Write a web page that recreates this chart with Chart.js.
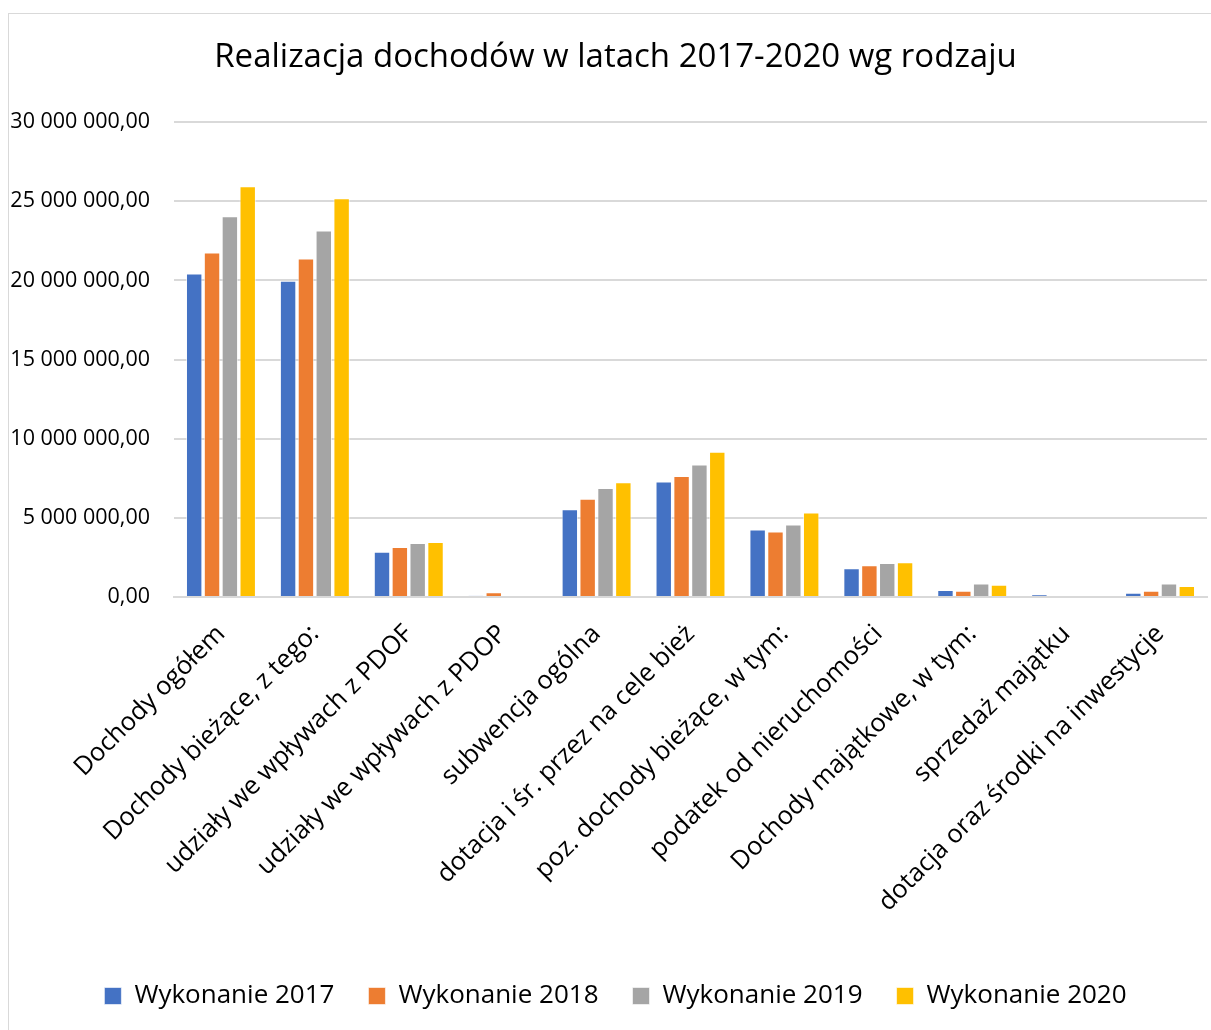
<!DOCTYPE html>
<html>
<head>
<meta charset="utf-8">
<script src="https://cdn.jsdelivr.net/npm/chart.js@4"></script>
<style>
  html, body { margin: 0; padding: 0; background: #fff; }
  #wrap { position: relative; width: 1211px; height: 1030px; overflow: hidden; }
  #frame { position: absolute; left: 8px; top: 13px; width: 1300px; height: 1200px; border: 1px solid #d9d9d9; }
  canvas { position: absolute; left: 0; top: 0; }
</style>
</head>
<body>
<div id="wrap">
  <div id="frame"></div>
  <canvas id="c" width="1211" height="1030"></canvas>
</div>
<script>
const title = 'Realizacja dochodów w latach 2017-2020 wg rodzaju';
const categories = [
  'Dochody ogółem',
  'Dochody bieżące, z tego:',
  'udziały we wpływach z PDOF',
  'udziały we wpływach z PDOP',
  'subwencja ogólna',
  'dotacja i śr. przez na cele bież',
  'poz. dochody bieżące, w tym:',
  'podatek od nieruchomości',
  'Dochody majątkowe, w tym:',
  'sprzedaż majątku',
  'dotacja oraz środki na inwestycje'
];
const seriesNames = ['Wykonanie 2017', 'Wykonanie 2018', 'Wykonanie 2019', 'Wykonanie 2020'];
const values2017 = [20440000, 19980000, 2860000, 80000, 5550000, 7300000, 4260000, 1810000, 440000, 150000, 270000];
const values2018 = [21770000, 21390000, 3160000, 300000, 6200000, 7650000, 4130000, 2000000, 400000, 0, 400000];
const values2019 = [24050000, 23160000, 3410000, 0, 6880000, 8370000, 4580000, 2150000, 860000, 0, 860000];
const values2020 = [25950000, 25190000, 3470000, 0, 7250000, 9170000, 5340000, 2190000, 780000, 70000, 700000];
const colors = ['#4472c4', '#ed7d31', '#a5a5a5', '#ffc000'];
const yTicks = [0, 5000000, 10000000, 15000000, 20000000, 25000000, 30000000];

const allValues = [values2017, values2018, values2019, values2020];

function fmt(v) {
  const s = Math.round(v).toString().replace(/\B(?=(\d{3})+(?!\d))/g, ' ');
  return s + ',00';
}

const FONT = 'Open Sans';

// widen the y-axis label clip area so the right-aligned labels are not cut
const widenYLabels = {
  id: 'widenYLabels',
  afterLayout(chart) { chart.scales.y.left = 0; }
};

new Chart(document.getElementById('c'), {
  type: 'bar',
  data: {
    labels: categories,
    datasets: seriesNames.map((n, i) => ({
      label: n,
      data: allValues[i],
      backgroundColor: colors[i],
      borderColor: 'rgba(255,255,255,0.6)',
      borderWidth: 1,
      categoryPercentage: 0.76,
      barPercentage: 0.92
    }))
  },
  plugins: [widenYLabels],
  options: {
    responsive: false,
    animation: false,
    layout: { padding: { left: 24, right: 4, top: 0, bottom: 11 } },
    plugins: {
      title: {
        display: true,
        text: title,
        color: '#000',
        font: { family: FONT, size: 33, weight: 'normal' },
        padding: { top: 38, bottom: 44.5 }
      },
      legend: {
        position: 'bottom',
        labels: {
          color: '#000',
          font: { family: FONT, size: 26 },
          boxWidth: 17,
          boxHeight: 17,
          padding: 34
        }
      },
      tooltip: { enabled: false }
    },
    scales: {
      x: {
        grid: { display: false, drawTicks: false },
        border: { display: true, color: '#d9d9d9', width: 2 },
        ticks: {
          color: '#000',
          font: { family: FONT, size: 25.5 },
          minRotation: 45,
          maxRotation: 45,
          autoSkip: false,
          padding: 22
        },
        afterFit: (scale) => { scale.height = 352; scale.paddingLeft = 0; scale.paddingRight = 0; }
      },
      y: {
        min: 0,
        max: 30000000,
        afterBuildTicks: (scale) => { scale.ticks = yTicks.map(v => ({ value: v })); },
        afterFit: (scale) => { scale.width = 150; },
        grid: { color: '#d9d9d9', lineWidth: 2, drawTicks: false },
        border: { display: false },
        ticks: {
          color: '#000',
          font: { family: FONT, size: 21.5 },
          padding: 24,
          callback: (v) => fmt(v)
        }
      }
    }
  }
});
</script>
</body>
</html>
